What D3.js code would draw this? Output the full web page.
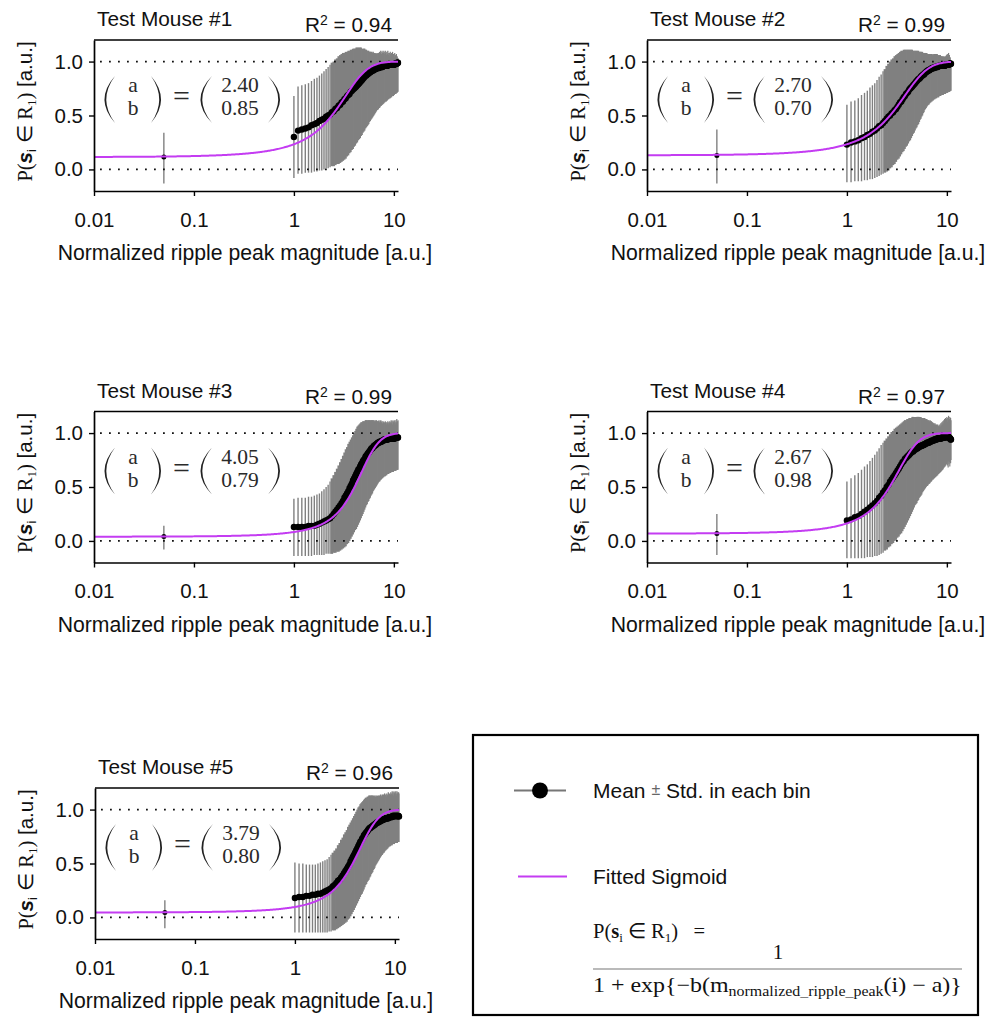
<!DOCTYPE html>
<html>
<head>
<meta charset="utf-8">
<script src="https://cdn.jsdelivr.net/npm/d3@7"></script>
<style>
  html, body { margin: 0; padding: 0; background: #fff; }
  svg { display: block; }
</style>
</head>
<body>
<svg id="chart" width="991" height="1021"></svg>
<script>
// ---- data -------------------------------------------------------------
const mouseTitles = ["Test Mouse #1", "Test Mouse #2", "Test Mouse #3", "Test Mouse #4", "Test Mouse #5"];
const rSquared = ["0.94", "0.99", "0.99", "0.97", "0.96"];
const fitA = [2.40, 2.70, 4.05, 2.67, 3.79];
const fitB = [0.85, 0.70, 0.79, 0.98, 0.80];
const fitALabels = ["2.40", "2.70", "4.05", "2.67", "3.79"];
const fitBLabels = ["0.85", "0.70", "0.79", "0.98", "0.80"];

const xTicks = [0.01, 0.1, 1, 10];
const xTickLabels = ["0.01", "0.1", "1", "10"];
const yTicks = [0, 0.5, 1];
const yTickLabels = ["0.0", "0.5", "1.0"];

// near-zero bin (x = 0.05)
const lowBinX = 0.05;
const lowBinMean = [0.116, 0.13, 0.04, 0.068, 0.046];
const lowBinLo = [-0.13, -0.13, -0.08, -0.13, -0.10];
const lowBinHi = [0.34, 0.37, 0.14, 0.25, 0.16];

// magnitude bins
const binCenters = [
  1.0,1.1,1.2,1.3,1.4,1.5,1.6,1.7,1.8,1.9,
  2.0,2.1,2.2,2.3,2.4,2.5,2.6,2.7,2.8,2.9,
  3.0,3.1,3.2,3.3,3.4,3.5,3.6,3.7,3.8,3.9,
  4.0,4.1,4.2,4.3,4.4,4.5,4.6,4.7,4.8,4.9,
  5.0,5.1,5.2,5.3,5.4,5.5,5.6,5.7,5.8,5.9,
  6.0,6.1,6.2,6.3,6.4,6.5,6.6,6.7,6.8,6.9,
  7.0,7.1,7.2,7.3,7.4,7.5,7.6,7.7,7.8,7.9,
  8.0,8.1,8.2,8.3,8.4,8.5,8.6,8.7,8.8,8.9,
  9.0,9.1,9.2,9.3,9.4,9.5,9.6,9.7,9.8,9.9,
  10.0,10.1,10.2,10.3,10.4,10.5,10.6,10.7,10.8,10.9,
  11.0];

// mouse 1
const mean1 = [
  0.30,0.36,0.37,0.38,0.39,0.41,0.42,0.43,0.45,0.46,
  0.47,0.49,0.50,0.51,0.53,0.54,0.56,0.57,0.59,0.60,
  0.62,0.63,0.65,0.66,0.68,0.69,0.70,0.72,0.73,0.74,
  0.75,0.76,0.77,0.78,0.79,0.80,0.81,0.82,0.83,0.84,
  0.85,0.86,0.87,0.87,0.88,0.89,0.89,0.90,0.90,0.91,
  0.91,0.92,0.92,0.92,0.93,0.93,0.93,0.94,0.94,0.94,
  0.94,0.94,0.95,0.95,0.95,0.95,0.95,0.95,0.96,0.96,
  0.96,0.96,0.96,0.96,0.96,0.96,0.96,0.97,0.97,0.97,
  0.97,0.97,0.97,0.97,0.97,0.97,0.97,0.97,0.97,0.97,
  0.97,0.97,0.98,0.98,0.98,0.98,0.98,0.98,0.99,0.99,
  0.99];
const lo1 = [
  -0.08,-0.04,-0.04,-0.03,-0.03,-0.03,-0.02,-0.02,-0.01,-0.01,
  0.00,0.01,0.01,0.02,0.03,0.03,0.04,0.05,0.05,0.06,
  0.07,0.08,0.09,0.10,0.12,0.13,0.15,0.16,0.18,0.19,
  0.21,0.22,0.24,0.25,0.27,0.28,0.29,0.31,0.32,0.34,
  0.35,0.36,0.38,0.39,0.40,0.41,0.42,0.44,0.45,0.46,
  0.47,0.48,0.49,0.50,0.51,0.52,0.53,0.54,0.55,0.55,
  0.56,0.57,0.57,0.58,0.59,0.59,0.60,0.60,0.61,0.61,
  0.62,0.62,0.63,0.63,0.63,0.64,0.64,0.65,0.65,0.65,
  0.66,0.66,0.66,0.67,0.67,0.67,0.68,0.68,0.68,0.68,
  0.69,0.69,0.70,0.70,0.70,0.70,0.71,0.71,0.71,0.72,
  0.72];
const hi1 = [
  0.68,0.77,0.78,0.79,0.80,0.82,0.84,0.85,0.87,0.89,
  0.91,0.93,0.95,0.97,0.99,1.00,1.02,1.03,1.05,1.06,
  1.07,1.08,1.08,1.09,1.09,1.10,1.10,1.11,1.11,1.12,
  1.12,1.12,1.13,1.13,1.13,1.13,1.13,1.13,1.12,1.12,
  1.12,1.12,1.11,1.11,1.10,1.10,1.10,1.09,1.09,1.09,
  1.09,1.08,1.09,1.08,1.08,1.07,1.08,1.07,1.08,1.07,
  1.08,1.07,1.09,1.08,1.10,1.07,1.09,1.08,1.10,1.08,
  1.09,1.07,1.10,1.08,1.06,1.09,1.07,1.10,1.06,1.08,
  1.08,1.05,1.09,1.07,1.04,1.08,1.06,1.09,1.05,1.07,
  1.07,1.04,1.08,1.05,1.06,1.03,1.07,1.04,1.05,1.03,
  1.03];

// mouse 2
const mean2 = [
  0.23,0.25,0.26,0.27,0.29,0.30,0.32,0.33,0.35,0.36,
  0.38,0.40,0.41,0.43,0.45,0.47,0.49,0.50,0.52,0.53,
  0.55,0.56,0.58,0.60,0.62,0.63,0.65,0.67,0.68,0.70,
  0.71,0.72,0.74,0.75,0.76,0.77,0.78,0.79,0.80,0.81,
  0.82,0.83,0.84,0.84,0.85,0.86,0.87,0.87,0.88,0.88,
  0.89,0.90,0.90,0.91,0.91,0.92,0.92,0.92,0.93,0.93,
  0.93,0.94,0.94,0.94,0.94,0.94,0.95,0.95,0.95,0.95,
  0.95,0.95,0.96,0.96,0.96,0.96,0.96,0.96,0.96,0.96,
  0.96,0.96,0.96,0.96,0.96,0.96,0.97,0.97,0.97,0.97,
  0.97,0.97,0.97,0.97,0.97,0.97,0.98,0.98,0.98,0.98,
  0.98];
const lo2 = [
  -0.12,-0.12,-0.11,-0.11,-0.11,-0.10,-0.10,-0.09,-0.09,-0.08,
  -0.07,-0.06,-0.05,-0.04,-0.03,-0.02,-0.01,0.01,0.02,0.04,
  0.05,0.07,0.09,0.10,0.12,0.14,0.16,0.17,0.19,0.21,
  0.22,0.24,0.26,0.27,0.29,0.31,0.33,0.34,0.36,0.38,
  0.39,0.41,0.42,0.44,0.46,0.47,0.49,0.50,0.52,0.53,
  0.55,0.56,0.57,0.58,0.59,0.60,0.60,0.61,0.62,0.62,
  0.63,0.63,0.64,0.64,0.65,0.65,0.65,0.66,0.66,0.66,
  0.67,0.67,0.67,0.67,0.68,0.68,0.68,0.68,0.69,0.69,
  0.69,0.69,0.69,0.70,0.70,0.70,0.70,0.70,0.71,0.71,
  0.71,0.71,0.71,0.72,0.72,0.72,0.72,0.72,0.73,0.73,
  0.73];
const hi2 = [
  0.60,0.63,0.64,0.66,0.69,0.71,0.73,0.76,0.78,0.80,
  0.83,0.86,0.88,0.91,0.93,0.96,0.98,1.00,1.02,1.03,
  1.05,1.06,1.07,1.08,1.09,1.10,1.10,1.11,1.11,1.11,
  1.11,1.11,1.11,1.11,1.11,1.11,1.10,1.10,1.10,1.10,
  1.10,1.10,1.10,1.09,1.09,1.09,1.09,1.09,1.08,1.08,
  1.08,1.08,1.08,1.08,1.07,1.07,1.07,1.07,1.07,1.07,
  1.07,1.07,1.06,1.07,1.06,1.07,1.06,1.07,1.06,1.07,
  1.07,1.06,1.06,1.05,1.06,1.05,1.06,1.05,1.05,1.05,
  1.05,1.04,1.05,1.04,1.05,1.04,1.04,1.05,1.04,1.06,
  1.04,1.07,1.05,1.06,1.08,1.05,1.06,1.03,1.04,1.01,
  0.99];

// mouse 3
const mean3 = [
  0.13,0.13,0.13,0.13,0.14,0.14,0.14,0.15,0.16,0.17,
  0.18,0.19,0.20,0.21,0.23,0.25,0.27,0.29,0.31,0.33,
  0.35,0.37,0.40,0.42,0.44,0.46,0.49,0.51,0.53,0.56,
  0.58,0.60,0.62,0.64,0.66,0.67,0.69,0.71,0.72,0.74,
  0.75,0.76,0.78,0.79,0.80,0.81,0.82,0.83,0.84,0.85,
  0.86,0.86,0.87,0.88,0.88,0.89,0.89,0.90,0.90,0.91,
  0.91,0.91,0.92,0.92,0.92,0.92,0.93,0.93,0.93,0.93,
  0.94,0.94,0.94,0.94,0.94,0.94,0.94,0.94,0.95,0.95,
  0.95,0.95,0.95,0.95,0.95,0.95,0.95,0.95,0.95,0.95,
  0.95,0.95,0.95,0.96,0.96,0.96,0.96,0.96,0.96,0.96,
  0.96];
const lo3 = [
  -0.14,-0.14,-0.14,-0.14,-0.14,-0.14,-0.13,-0.13,-0.13,-0.13,
  -0.13,-0.12,-0.12,-0.12,-0.12,-0.11,-0.11,-0.10,-0.10,-0.09,
  -0.08,-0.07,-0.06,-0.05,-0.03,-0.02,0.00,0.02,0.04,0.06,
  0.08,0.10,0.11,0.13,0.15,0.17,0.19,0.21,0.23,0.25,
  0.27,0.29,0.31,0.33,0.34,0.36,0.37,0.39,0.40,0.42,
  0.43,0.44,0.46,0.47,0.48,0.49,0.50,0.51,0.52,0.53,
  0.54,0.55,0.55,0.56,0.57,0.57,0.58,0.58,0.59,0.59,
  0.60,0.60,0.60,0.61,0.61,0.61,0.62,0.62,0.62,0.62,
  0.63,0.63,0.63,0.63,0.64,0.64,0.64,0.64,0.64,0.64,
  0.65,0.65,0.65,0.65,0.65,0.65,0.66,0.66,0.66,0.66,
  0.66];
const hi3 = [
  0.39,0.40,0.40,0.40,0.41,0.41,0.42,0.43,0.44,0.46,
  0.48,0.50,0.52,0.55,0.58,0.61,0.64,0.67,0.70,0.73,
  0.76,0.79,0.82,0.85,0.87,0.90,0.92,0.94,0.96,0.98,
  1.00,1.02,1.04,1.06,1.07,1.08,1.09,1.10,1.10,1.11,
  1.11,1.11,1.12,1.12,1.12,1.12,1.12,1.12,1.12,1.12,
  1.12,1.12,1.12,1.12,1.11,1.12,1.11,1.12,1.11,1.11,
  1.11,1.12,1.10,1.11,1.12,1.10,1.11,1.09,1.11,1.10,
  1.10,1.09,1.11,1.10,1.08,1.10,1.09,1.11,1.08,1.10,
  1.09,1.11,1.08,1.10,1.12,1.09,1.11,1.08,1.12,1.10,
  1.11,1.09,1.12,1.10,1.08,1.12,1.10,1.13,1.09,1.11,
  1.12];

// mouse 4
const mean4 = [
  0.19,0.20,0.22,0.23,0.25,0.27,0.29,0.31,0.33,0.35,
  0.37,0.40,0.42,0.45,0.47,0.50,0.52,0.55,0.57,0.59,
  0.61,0.63,0.65,0.67,0.69,0.71,0.73,0.74,0.76,0.77,
  0.78,0.79,0.80,0.81,0.82,0.83,0.83,0.84,0.85,0.85,
  0.86,0.86,0.87,0.87,0.88,0.88,0.88,0.89,0.89,0.89,
  0.90,0.90,0.90,0.91,0.91,0.91,0.91,0.92,0.92,0.92,
  0.93,0.93,0.93,0.93,0.93,0.94,0.94,0.94,0.94,0.94,
  0.95,0.95,0.95,0.95,0.95,0.95,0.95,0.95,0.95,0.96,
  0.96,0.96,0.96,0.96,0.96,0.96,0.96,0.96,0.97,0.97,
  0.97,0.97,0.97,0.97,0.96,0.96,0.96,0.95,0.95,0.94,
  0.94];
const lo4 = [
  -0.16,-0.16,-0.16,-0.16,-0.16,-0.16,-0.15,-0.15,-0.15,-0.14,
  -0.14,-0.13,-0.12,-0.11,-0.09,-0.08,-0.06,-0.05,-0.03,-0.02,
  0.00,0.01,0.03,0.04,0.06,0.07,0.09,0.11,0.13,0.15,
  0.17,0.19,0.21,0.23,0.25,0.27,0.29,0.31,0.33,0.34,
  0.35,0.37,0.38,0.40,0.41,0.42,0.43,0.45,0.46,0.47,
  0.48,0.49,0.50,0.51,0.51,0.52,0.53,0.53,0.54,0.55,
  0.55,0.56,0.57,0.57,0.58,0.58,0.59,0.59,0.60,0.60,
  0.61,0.61,0.62,0.62,0.63,0.63,0.64,0.64,0.65,0.65,
  0.66,0.66,0.67,0.68,0.68,0.69,0.69,0.70,0.71,0.71,
  0.72,0.70,0.73,0.68,0.74,0.71,0.73,0.69,0.75,0.72,
  0.75];
const hi4 = [
  0.55,0.58,0.61,0.63,0.66,0.69,0.71,0.74,0.77,0.80,
  0.83,0.86,0.89,0.91,0.93,0.95,0.97,0.99,1.01,1.02,
  1.04,1.05,1.06,1.07,1.08,1.09,1.10,1.11,1.12,1.12,
  1.13,1.13,1.14,1.14,1.14,1.15,1.15,1.15,1.15,1.15,
  1.15,1.15,1.15,1.15,1.15,1.15,1.14,1.14,1.14,1.14,
  1.14,1.13,1.13,1.13,1.12,1.12,1.12,1.11,1.12,1.11,
  1.11,1.10,1.10,1.09,1.09,1.08,1.09,1.08,1.07,1.08,
  1.07,1.08,1.06,1.07,1.06,1.08,1.06,1.09,1.07,1.10,
  1.08,1.11,1.09,1.12,1.08,1.13,1.10,1.14,1.09,1.13,
  1.15,1.10,1.14,1.12,1.16,1.10,1.13,1.15,1.11,1.14,
  1.12];

// mouse 5
const mean5 = [
  0.18,0.19,0.19,0.20,0.20,0.21,0.21,0.22,0.22,0.23,
  0.24,0.25,0.26,0.27,0.29,0.30,0.32,0.34,0.35,0.37,
  0.39,0.41,0.43,0.45,0.47,0.49,0.52,0.54,0.56,0.58,
  0.60,0.62,0.64,0.66,0.68,0.70,0.71,0.73,0.74,0.76,
  0.77,0.78,0.79,0.80,0.81,0.82,0.83,0.83,0.84,0.84,
  0.85,0.85,0.86,0.86,0.87,0.87,0.88,0.88,0.88,0.89,
  0.89,0.89,0.90,0.90,0.90,0.90,0.91,0.91,0.91,0.91,
  0.915,0.92,0.92,0.92,0.92,0.92,0.92,0.93,0.93,0.93,
  0.93,0.93,0.93,0.93,0.93,0.94,0.94,0.94,0.94,0.94,
  0.94,0.94,0.94,0.94,0.94,0.94,0.94,0.94,0.94,0.94,
  0.935];
const lo5 = [
  -0.14,-0.14,-0.14,-0.14,-0.14,-0.14,-0.14,-0.14,-0.14,-0.14,
  -0.14,-0.14,-0.13,-0.13,-0.12,-0.12,-0.11,-0.10,-0.09,-0.08,
  -0.07,-0.06,-0.05,-0.04,-0.02,-0.01,0.01,0.03,0.05,0.07,
  0.09,0.11,0.13,0.15,0.17,0.19,0.21,0.22,0.24,0.26,
  0.28,0.30,0.31,0.33,0.34,0.35,0.37,0.38,0.40,0.41,
  0.42,0.44,0.45,0.46,0.48,0.49,0.50,0.51,0.52,0.53,
  0.54,0.55,0.56,0.57,0.58,0.58,0.59,0.60,0.60,0.61,
  0.62,0.62,0.63,0.63,0.64,0.64,0.65,0.65,0.66,0.66,
  0.66,0.67,0.67,0.67,0.67,0.68,0.68,0.68,0.68,0.68,
  0.69,0.69,0.69,0.69,0.69,0.69,0.69,0.70,0.70,0.70,
  0.70];
const hi5 = [
  0.51,0.50,0.50,0.49,0.49,0.49,0.49,0.50,0.51,0.52,
  0.53,0.54,0.56,0.58,0.60,0.62,0.64,0.67,0.69,0.72,
  0.74,0.77,0.79,0.81,0.84,0.86,0.88,0.90,0.92,0.94,
  0.96,0.98,1.00,1.02,1.03,1.05,1.06,1.07,1.08,1.09,
  1.10,1.11,1.11,1.12,1.12,1.13,1.13,1.13,1.13,1.13,
  1.13,1.13,1.12,1.13,1.12,1.13,1.12,1.13,1.12,1.13,
  1.13,1.12,1.14,1.12,1.13,1.14,1.12,1.14,1.13,1.15,
  1.13,1.14,1.12,1.15,1.13,1.14,1.16,1.13,1.15,1.14,
  1.14,1.16,1.13,1.15,1.17,1.14,1.16,1.13,1.17,1.15,
  1.16,1.14,1.17,1.15,1.13,1.17,1.15,1.16,1.14,1.16,
  1.15];

// ---- layout -----------------------------------------------------------
const SANS = "'Liberation Sans', Arial, Helvetica, sans-serif";
const SERIF = "'Liberation Serif', 'Times New Roman', serif";
const PURPLE = "#c43cf2";
const W = 304, H = 151;
const panelOrigins = [[94, 40], [647, 40], [94, 411.5], [647, 411.5], [95, 788]];

const seriesMeans = [mean1, mean2, mean3, mean4, mean5];
const seriesLo = [lo1, lo2, lo3, lo4, lo5];
const seriesHi = [hi1, hi2, hi3, hi4, hi5];

const svg = d3.select("#chart");
svg.append("rect").attr("width", 991).attr("height", 1021).attr("fill", "#fff");

const x = d3.scaleLog().domain([0.01, 11]).range([0, W]);
const y = d3.scaleLinear().domain([-0.2, 1.2]).range([H, 0]);

// error-bar width: thin where bars stand apart, widened to close the gaps
// where neighbouring bins sit closer than a couple of pixels on the log axis
function barWidth(i) {
  const next = i + 1 < binCenters.length ? binCenters[i + 1] : binCenters[i] + 0.1;
  const gap = x(next) - x(binCenters[i]);
  return gap < 1.8 ? gap + 0.8 : 1.4;
}

// tall bracket used in the (a b) = (.. ..) annotation
function bracket(g, tipX, bellyX, yTop, yBot, thick) {
  const ym = (yTop + yBot) / 2;
  const c = 2 * bellyX - tipX;
  const dir = bellyX < tipX ? 1 : -1;
  const c2 = c + dir * 2 * thick;
  g.append("path")
    .attr("d", `M${tipX},${yTop} Q${c},${ym} ${tipX},${yBot} Q${c2},${ym} ${tipX},${yTop} Z`)
    .attr("fill", "#222");
}

const sigmoid = (m, a, b) => 1 / (1 + Math.exp(-b * (m - a)));
const curveX = d3.range(0, 301).map(i => Math.pow(10, -2 + i * (Math.log10(11) + 2) / 300));

seriesMeans.forEach((means, k) => {
  const [px, py] = panelOrigins[k];
  const g = svg.append("g").attr("transform", `translate(${px},${py})`);
  const lo = seriesLo[k], hi = seriesHi[k];

  // error bars
  g.append("g").selectAll("line").data(binCenters).join("line")
    .attr("x1", d => x(d)).attr("x2", d => x(d))
    .attr("y1", (d, i) => y(lo[i])).attr("y2", (d, i) => y(hi[i]))
    .attr("stroke", "#808080").attr("stroke-width", (d, i) => barWidth(i));
  g.append("line")
    .attr("x1", x(lowBinX)).attr("x2", x(lowBinX))
    .attr("y1", y(lowBinLo[k])).attr("y2", y(lowBinHi[k]))
    .attr("stroke", "#777").attr("stroke-width", 1.3);

  // dotted reference lines at 0 and 1
  [0, 1].forEach(v => {
    g.append("line")
      .attr("x1", 6).attr("x2", W)
      .attr("y1", y(v)).attr("y2", y(v))
      .attr("stroke", "#111").attr("stroke-width", 1.8)
      .attr("stroke-dasharray", "1.8 7.2");
  });

  // bin means
  g.append("g").selectAll("circle").data(binCenters).join("circle")
    .attr("cx", d => x(d)).attr("cy", (d, i) => y(means[i]))
    .attr("r", 3.2).attr("fill", "#000");
  g.append("circle")
    .attr("cx", x(lowBinX)).attr("cy", y(lowBinMean[k]))
    .attr("r", 2.5).attr("fill", "#000");

  // fitted sigmoid
  g.append("path")
    .datum(curveX)
    .attr("d", d3.line().x(d => x(d)).y(d => y(sigmoid(d, fitA[k], fitB[k]))))
    .attr("fill", "none").attr("stroke", PURPLE).attr("stroke-width", 2);

  // axes
  const ax = g.append("g")
    .call(d3.axisLeft(y).tickValues(yTicks).tickFormat((d, i) => yTickLabels[i])
      .tickSize(5).tickPadding(6).tickSizeOuter(0));
  const bx = g.append("g").attr("transform", `translate(0,${H})`)
    .call(d3.axisBottom(x).tickValues(xTicks).tickFormat((d, i) => xTickLabels[i])
      .tickSize(5).tickPadding(16).tickSizeOuter(0));
  [ax, bx].forEach(a => {
    a.select(".domain").attr("stroke", "#000").attr("stroke-width", 1.7);
    a.selectAll(".tick line").attr("stroke", "#000").attr("stroke-width", 1.4);
    a.selectAll(".tick text").attr("font-family", SANS).attr("font-size", 20.5).attr("fill", "#111");
  });
  g.append("line").attr("x1", 0).attr("x2", W).attr("y1", 0).attr("y2", 0)
    .attr("stroke", "#000").attr("stroke-width", 1.7);

  // titles
  g.append("text").attr("x", 3).attr("y", -14)
    .attr("font-family", SANS).attr("font-size", 20.8).attr("fill", "#111")
    .text(mouseTitles[k]);
  const r2 = g.append("text").attr("x", 298).attr("y", -8).attr("text-anchor", "end")
    .attr("font-family", SANS).attr("font-size", 20.8).attr("fill", "#111");
  r2.append("tspan").text("R");
  r2.append("tspan").attr("font-size", 14).attr("dy", -7).text("2");
  r2.append("tspan").attr("dy", 7).text(" = " + rSquared[k]);

  g.append("text").attr("x", W / 2 - 1).attr("y", 220).attr("text-anchor", "middle")
    .attr("font-family", SANS).attr("font-size", 21.2).attr("fill", "#111")
    .text("Normalized ripple peak magnitude [a.u.]");

  // y axis title
  const yl = g.append("text")
    .attr("transform", `translate(-62,${H / 2 - 4}) rotate(-90)`)
    .attr("text-anchor", "middle").attr("font-size", 20.5).attr("fill", "#111")
    .attr("font-family", SERIF);
  yl.append("tspan").text("P(");
  yl.append("tspan").attr("font-family", SANS).attr("font-weight", "bold").attr("font-style", "italic").text("s");
  yl.append("tspan").attr("font-family", SANS).attr("font-size", 13).attr("dy", 4).text("i");
  yl.append("tspan").attr("font-family", SANS).attr("dy", -4).text(" \u2208 ");
  yl.append("tspan").text("R");
  yl.append("tspan").attr("font-size", 13).attr("dy", 4).text("1");
  yl.append("tspan").attr("dy", -4).text(")");
  yl.append("tspan").attr("font-family", SANS).text(" [a.u.]");

  // (a, b) = (fitA, fitB) annotation
  const ann = g.append("g");
  bracket(ann, 21, 10.5, 36, 83, 1.8);
  bracket(ann, 57, 67, 36, 83, 1.8);
  bracket(ann, 118, 106.5, 36, 83, 1.8);
  bracket(ann, 174, 186, 36, 83, 1.8);
  const annText = (tx, ty, s) => ann.append("text").attr("x", tx).attr("y", ty)
    .attr("text-anchor", "middle").attr("font-family", SERIF)
    .attr("font-size", 21.5).attr("fill", "#2a2a2a").text(s);
  annText(39, 52, "a");
  annText(39, 75, "b");
  annText(146, 52, fitALabels[k]);
  annText(146, 75, fitBLabels[k]);
  ann.append("text").attr("x", 87.5).attr("y", 66).attr("text-anchor", "middle")
    .attr("font-family", SERIF).attr("font-size", 30).attr("fill", "#2a2a2a").text("=");
});

// ---- legend -----------------------------------------------------------
const lg = svg.append("g");
lg.append("rect").attr("x", 473).attr("y", 735).attr("width", 505).attr("height", 280)
  .attr("fill", "#fff").attr("stroke", "#000").attr("stroke-width", 2.2);

lg.append("line").attr("x1", 514).attr("x2", 566).attr("y1", 790.5).attr("y2", 790.5)
  .attr("stroke", "#777").attr("stroke-width", 2.2);
lg.append("circle").attr("cx", 540).attr("cy", 790.5).attr("r", 8).attr("fill", "#000");
const t1 = lg.append("text").attr("x", 593).attr("y", 798)
  .attr("font-family", SANS).attr("font-size", 21).attr("fill", "#111");
t1.append("tspan").text("Mean ");
t1.append("tspan").attr("font-size", 16).attr("fill", "#666").attr("dy", -3).text("\u00b1");
t1.append("tspan").attr("dy", 3).text(" Std. in each bin");

lg.append("line").attr("x1", 518).attr("x2", 567).attr("y1", 876.5).attr("y2", 876.5)
  .attr("stroke", PURPLE).attr("stroke-width", 2);
lg.append("text").attr("x", 593).attr("y", 884)
  .attr("font-family", SANS).attr("font-size", 21).attr("fill", "#111")
  .text("Fitted Sigmoid");

// formula of the fitted sigmoid
const f1 = lg.append("text").attr("x", 593).attr("y", 938)
  .attr("font-family", SERIF).attr("font-size", 20.5).attr("fill", "#111");
f1.append("tspan").text("P(");
f1.append("tspan").attr("font-weight", "bold").text("s");
f1.append("tspan").attr("font-size", 13).attr("dy", 4).text("i");
f1.append("tspan").attr("dy", -4).text(" \u2208 R");
f1.append("tspan").attr("font-size", 13).attr("dy", 4).text("1");
f1.append("tspan").attr("dy", -4).text(")\u2002 =");

lg.append("text").attr("x", 778).attr("y", 959).attr("text-anchor", "middle")
  .attr("font-family", SERIF).attr("font-size", 21).attr("fill", "#111").text("1");
lg.append("line").attr("x1", 593).attr("x2", 962).attr("y1", 969).attr("y2", 969)
  .attr("stroke", "#777").attr("stroke-width", 1.2);

const den = lg.append("text").attr("x", 0).attr("y", 0)
  .attr("font-family", SERIF).attr("font-size", 21).attr("fill", "#111");
den.append("tspan").text("1 + exp{\u2212b(m");
den.append("tspan").attr("font-size", 14).attr("dy", 4).text("normalized_ripple_peak");
den.append("tspan").attr("dy", -4).text("(i)  \u2212  a)}");
const denW = den.node().getComputedTextLength();
den.attr("transform", `translate(593,992) scale(${369 / denW},1)`);
</script>
</body>
</html>
